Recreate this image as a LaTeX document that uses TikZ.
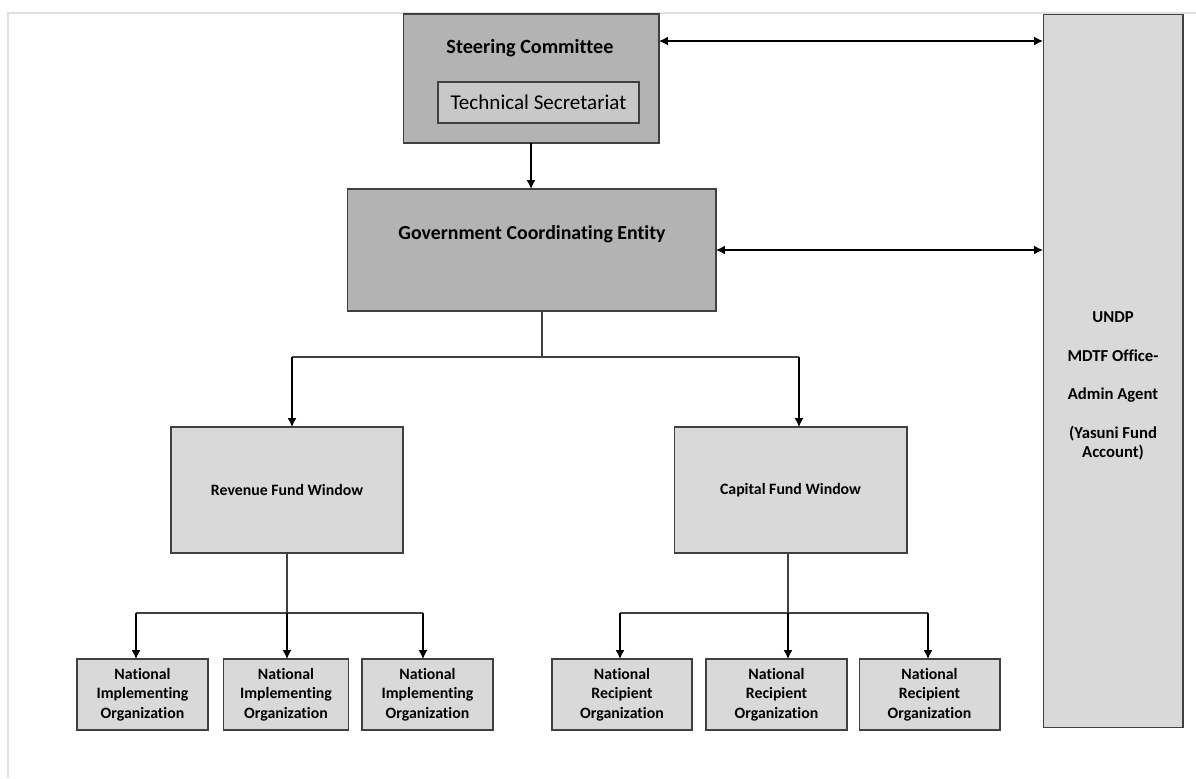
\documentclass[tikz,border=0pt]{standalone}
\usepackage{fontspec}
\setmainfont{Carlito}[Ligatures=NoCommon]
\usetikzlibrary{calc,arrows.meta}
\definecolor{boxdark}{HTML}{B3B3B3}
\definecolor{boxmid}{HTML}{C8C8C8}
\definecolor{boxlight}{HTML}{D9D9D9}
\definecolor{boxline}{HTML}{404040}
\tikzset{
	unitbox/.style={draw=boxline, line width=0.6pt, inner sep=0pt, outer sep=0pt},
	orgbox/.style={unitbox, fill=boxlight, minimum height=1.42cm, align=center,
		font=\bfseries\fontsize{9}{11}\selectfont},
	flow/.style={line width=0.8pt, -{Latex[length=5pt,width=5pt]}},
	twoway/.style={line width=0.8pt, {Latex[length=5pt,width=5pt]}-{Latex[length=5pt,width=5pt]}},
	link/.style={line width=0.8pt, draw=boxline}
}

\begin{document}
\begin{tikzpicture}[x=0.02cm, y=-0.02cm]
			%%%%% START %%%%%
			
			\useasboundingbox (0, 0) rectangle (1196, 778);
			\draw[line width=0.8pt, color=black!12] (1196, 13) -- (8, 13) -- (8, 778);
			
			\node[unitbox, fill=boxdark, minimum width=5.12cm, minimum height=2.58cm] (steer) at (531, 78.5) {};
			\node[font=\bfseries\fontsize{11.5}{13}\selectfont] (steertitle) at (530, 48) {Steering Committee};
			\node[unitbox, fill=boxmid, minimum width=4.02cm, minimum height=0.82cm, font=\fontsize{12}{14}\selectfont] (techsec) at (538.5, 102.5) {Technical Secretariat};
			
			\node[unitbox, fill=boxdark, minimum width=7.38cm, minimum height=2.44cm] (gov) at (531.5, 250) {};
			\node[font=\bfseries\fontsize{11.3}{13}\selectfont] (govtitle) at (532, 234) {Government Coordinating Entity};
			
			\node[unitbox, fill=boxlight, minimum width=2.8cm, minimum height=14.28cm] (undp) at (1113, 371) {};
			\node[align=center, font=\bfseries\fontsize{9.5}{11}\selectfont] (undptext) at (1113, 386) {UNDP\\[11pt] MDTF Office-\\[11pt] Admin Agent\\[11pt] (Yasuni Fund\\ Account)};
			
			\node[unitbox, fill=boxlight, minimum width=4.64cm, minimum height=2.52cm, font=\bfseries\fontsize{9}{11}\selectfont] (revenue) at (287, 490) {Revenue Fund Window};
			\node[unitbox, fill=boxlight, minimum width=4.66cm, minimum height=2.52cm, font=\bfseries\fontsize{9}{11}\selectfont] (capital) at (790.5, 490) {Capital Fund Window};
			
			\node[orgbox, minimum width=2.62cm] (nio1) at (142.5, 694.5) {National\\ Implementing\\ Organization};
			\node[orgbox, minimum width=2.5cm] (nio2) at (286, 694.5) {National\\ Implementing\\ Organization};
			\node[orgbox, minimum width=2.62cm] (nio3) at (427.5, 694.5) {National\\ Implementing\\ Organization};
			
			\node[orgbox, minimum width=2.8cm] (nro1) at (622, 694.5) {National\\ Recipient\\ Organization};
			\node[orgbox, minimum width=2.82cm] (nro2) at (776.5, 694.5) {National\\ Recipient\\ Organization};
			\node[orgbox, minimum width=2.82cm] (nro3) at (929.5, 694.5) {National\\ Recipient\\ Organization};
			
			\draw[flow] (steer.south) -- (steer.south |- gov.north);
			\draw[twoway] ($(steer.north east)+(0, 27)$) coordinate (sclink) -- (sclink -| undp.west);
			\draw[twoway] (gov.east) -- (gov.east -| undp.west);
			
			\coordinate (govsplit) at (542, 357);
			\coordinate (revtop) at (292, 357);
			\coordinate (captop) at (799, 357);
			\draw[link] (govsplit |- gov.south) -- (govsplit);
			\draw[link] (revtop) -- (captop);
			\draw[flow] (revtop) -- (revtop |- revenue.north);
			\draw[flow] (captop) -- (captop |- capital.north);
			
			\coordinate (revsplit) at (287, 613);
			\coordinate (revleft) at (136, 613);
			\coordinate (revright) at (423, 613);
			\draw[link] (revsplit |- revenue.south) -- (revsplit);
			\draw[link] (revleft) -- (revright);
			\draw[flow] (revleft) -- (revleft |- nio1.north);
			\draw[flow] (revsplit) -- (revsplit |- nio2.north);
			\draw[flow] (revright) -- (revright |- nio3.north);
			
			\coordinate (capsplit) at (788, 613);
			\coordinate (capleft) at (620, 613);
			\coordinate (capright) at (928, 613);
			\draw[link] (capsplit |- capital.south) -- (capsplit);
			\draw[link] (capleft) -- (capright);
			\draw[flow] (capleft) -- (capleft |- nro1.north);
			\draw[flow] (capsplit) -- (capsplit |- nro2.north);
			\draw[flow] (capright) -- (capright |- nro3.north);
			
			%%%%% END %%%%%
\end{tikzpicture}
\end{document}
